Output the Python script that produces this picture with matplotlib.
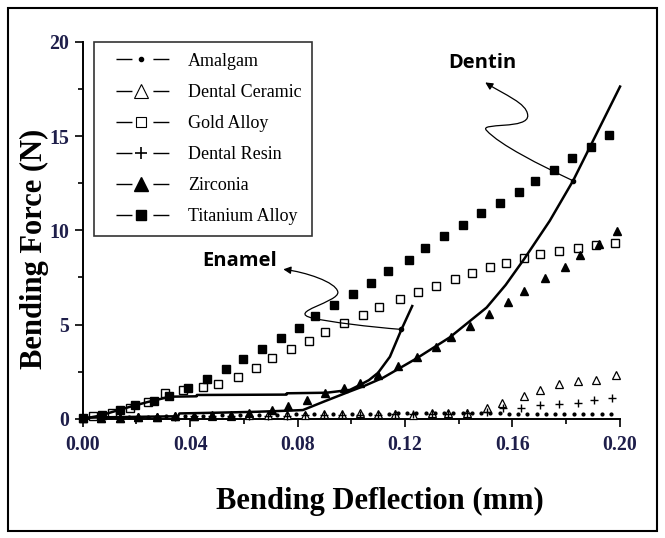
import numpy as np
import matplotlib.pyplot as plt
from matplotlib.lines import Line2D
from matplotlib.path import Path
from matplotlib.patches import FancyArrowPatch, Rectangle
from matplotlib.ticker import MultipleLocator, FormatStrFormatter

plt.rcParams['font.family'] = ['Liberation Serif', 'DejaVu Serif']

# --- data (deflection in mm, force in N) ---
amalgam_x = [0.000, 0.0035, 0.0069, 0.0104, 0.0138, 0.0173, 0.0207, 0.0242, 0.0276, 0.0311,
             0.0345, 0.0380, 0.0414, 0.0449, 0.0483, 0.0518, 0.0552, 0.0587, 0.0621, 0.0656,
             0.0690, 0.0725, 0.0759, 0.0794, 0.0828, 0.0863, 0.0897, 0.0932, 0.0966, 0.1001,
             0.1035, 0.1070, 0.1104, 0.1139, 0.1173, 0.1208, 0.1242, 0.1277, 0.1311, 0.1346,
             0.1380, 0.1415, 0.1449, 0.1484, 0.1518, 0.1553, 0.1587, 0.1622, 0.1656, 0.1691,
             0.1725, 0.1760, 0.1794, 0.1829, 0.1863, 0.1898, 0.1932, 0.1967]
amalgam_y = [0.04, 0.05, 0.06, 0.07, 0.08, 0.09, 0.10, 0.11, 0.12, 0.13,
             0.14, 0.15, 0.16, 0.17, 0.18, 0.18, 0.19, 0.20, 0.20, 0.21,
             0.22, 0.22, 0.23, 0.23, 0.24, 0.24, 0.25, 0.25, 0.26, 0.26,
             0.26, 0.27, 0.27, 0.27, 0.28, 0.28, 0.28, 0.28, 0.29, 0.29,
             0.29, 0.29, 0.29, 0.30, 0.30, 0.28, 0.27, 0.27, 0.27, 0.27,
             0.27, 0.27, 0.27, 0.27, 0.27, 0.27, 0.27, 0.27]

ceramic_x = [0.0, 0.0069, 0.0138, 0.0207, 0.0276, 0.0345, 0.0414, 0.0483, 0.0552, 0.0621,
             0.0690, 0.0759, 0.0828, 0.0897, 0.0966, 0.1032, 0.1100, 0.1162, 0.1230, 0.1299,
             0.1361, 0.1431, 0.1504, 0.1563, 0.1643, 0.1702, 0.1774, 0.1844, 0.1913, 0.1985]
ceramic_y = [0.02, 0.04, 0.06, 0.08, 0.10, 0.12, 0.14, 0.15, 0.17, 0.18,
             0.19, 0.20, 0.22, 0.24, 0.26, 0.29, 0.23, 0.23, 0.20, 0.29,
             0.29, 0.32, 0.56, 0.86, 1.19, 1.51, 1.83, 2.00, 2.07, 2.31]

gold_x = [0.0039, 0.0108, 0.0176, 0.0244, 0.0306, 0.0374, 0.0447, 0.0505, 0.0579, 0.0647,
          0.0706, 0.0774, 0.0843, 0.0904, 0.0974, 0.1043, 0.1104, 0.1183, 0.1247, 0.1317,
          0.1387, 0.1448, 0.1516, 0.1575, 0.1645, 0.1704, 0.1774, 0.1844, 0.1913, 0.1984]
gold_y = [0.16, 0.29, 0.55, 0.90, 1.38, 1.52, 1.70, 1.84, 2.23, 2.71,
          3.24, 3.70, 4.14, 4.62, 5.06, 5.50, 5.91, 6.35, 6.74, 7.06,
          7.41, 7.75, 8.07, 8.28, 8.51, 8.74, 8.90, 9.04, 9.22, 9.34]

resin_x = [0.0, 0.0069, 0.0138, 0.0207, 0.0276, 0.0345, 0.0414, 0.0483, 0.0552, 0.0621,
           0.0690, 0.0759, 0.0828, 0.0897, 0.0966, 0.1032, 0.1100, 0.1162, 0.1230, 0.1299,
           0.1361, 0.1431, 0.1504, 0.1565, 0.1634, 0.1703, 0.1775, 0.1843, 0.1905, 0.1972]
resin_y = [0.02, 0.03, 0.05, 0.07, 0.09, 0.10, 0.12, 0.13, 0.14, 0.15,
           0.16, 0.17, 0.18, 0.19, 0.20, 0.21, 0.22, 0.23, 0.24, 0.25,
           0.26, 0.28, 0.36, 0.55, 0.59, 0.71, 0.77, 0.86, 0.99, 1.10]

zirconia_x = [0.0, 0.0069, 0.0138, 0.0207, 0.0276, 0.0345, 0.0414, 0.0483, 0.0552, 0.0621,
              0.0703, 0.0765, 0.0835, 0.0903, 0.0974, 0.1032, 0.1100, 0.1175, 0.1243, 0.1314,
              0.1370, 0.1444, 0.1512, 0.1584, 0.1642, 0.1723, 0.1795, 0.1853, 0.1923, 0.1991]
zirconia_y = [0.02, 0.04, 0.06, 0.08, 0.10, 0.12, 0.15, 0.18, 0.22, 0.30,
              0.47, 0.70, 1.02, 1.36, 1.62, 1.91, 2.32, 2.80, 3.26, 3.82,
              4.32, 4.94, 5.54, 6.18, 6.78, 7.45, 8.07, 8.69, 9.27, 9.98]

titanium_x = [0.000, 0.0070, 0.0140, 0.0195, 0.0265, 0.0322, 0.0393, 0.0461, 0.0532, 0.0598,
              0.0666, 0.0737, 0.0806, 0.0866, 0.0936, 0.1007, 0.1075, 0.1135, 0.1216, 0.1275,
              0.1345, 0.1415, 0.1485, 0.1554, 0.1625, 0.1683, 0.1754, 0.1822, 0.1892, 0.1958]
titanium_y = [0.05, 0.20, 0.46, 0.73, 0.94, 1.22, 1.61, 2.09, 2.62, 3.17,
              3.70, 4.30, 4.83, 5.45, 6.05, 6.60, 7.22, 7.84, 8.42, 9.06,
              9.68, 10.28, 10.90, 11.43, 12.05, 12.63, 13.20, 13.82, 14.44, 15.06]

enamel_x = [0.0, 0.006, 0.012, 0.018, 0.024, 0.0325, 0.0424, 0.0425, 0.0759, 0.0760,
            0.0908, 0.0995, 0.1032, 0.1066, 0.1100, 0.1144, 0.1187, 0.1227]
enamel_y = [0.0, 0.15, 0.40, 0.65, 0.88, 1.17, 1.19, 1.26, 1.28, 1.35,
            1.38, 1.53, 1.79, 2.05, 2.44, 3.29, 4.74, 5.98]

dentin_x = [0.0, 0.010, 0.020, 0.030, 0.0355, 0.0360, 0.050, 0.065, 0.075, 0.082,
            0.090, 0.0995, 0.105, 0.1119, 0.1243, 0.1367, 0.1504, 0.1575, 0.1645, 0.1739,
            0.1826, 0.1888, 0.1937, 0.2001]
dentin_y = [0.05, 0.08, 0.10, 0.12, 0.13, 0.28, 0.32, 0.37, 0.42, 0.46,
            0.92, 1.45, 1.75, 2.18, 3.20, 4.32, 5.90, 7.10, 8.50, 10.50,
            12.63, 14.40, 15.80, 17.63]

labels = ['Amalgam', 'Dental Ceramic', 'Gold Alloy', 'Dental Resin', 'Zirconia', 'Titanium Alloy']

fig = plt.figure(figsize=(6.65, 5.38), dpi=100)
ax = fig.add_axes([0.1244, 0.2217, 0.8076, 0.7004])

k = dict(ls='none', color='black', clip_on=False, zorder=3)
ax.plot(amalgam_x, amalgam_y, marker='o', ms=2.0, **k)
ax.plot(ceramic_x, ceramic_y, marker='^', ms=6, mfc='white', mew=0.9, **k)
ax.plot(gold_x, gold_y, marker='s', ms=5.7, mfc='white', mew=1.0, **k)
ax.plot(resin_x, resin_y, marker='+', ms=5.5, mew=1.0, **k)
ax.plot(zirconia_x, zirconia_y, marker='^', ms=6.3, **k)
ax.plot(titanium_x, titanium_y, marker='s', ms=5.7, **k)

ax.plot(enamel_x, enamel_y, color='black', lw=1.8, clip_on=False, zorder=4)
ax.plot(dentin_x, dentin_y, color='black', lw=1.8, clip_on=False, zorder=4)

# wavy callout arrows
C4 = Path.CURVE4
enamel_path = Path([(0.1187, 4.74), (0.1069, 4.87), (0.0920, 5.13), (0.0857, 5.34),
                    (0.0753, 5.66), (0.0958, 6.19), (0.0950, 6.73),
                    (0.0943, 7.26), (0.0828, 7.79), (0.0747, 7.93)],
                   [Path.MOVETO, C4, C4, C4, C4, C4, C4, C4, C4, C4])
dentin_path = Path([(0.1826, 12.63), (0.1702, 13.47), (0.1553, 14.53), (0.1504, 15.30),
                    (0.1471, 15.75), (0.1665, 15.32), (0.1657, 16.12),
                    (0.1653, 16.76), (0.1572, 17.18), (0.1499, 17.85)],
                   [Path.MOVETO, C4, C4, C4, C4, C4, C4, C4, C4, C4])
for p in (enamel_path, dentin_path):
    ax.add_patch(FancyArrowPatch(path=p, arrowstyle='-|>', mutation_scale=11,
                                 lw=0.9, color='black', clip_on=False, zorder=5))
    ax.plot(*p.vertices[0], marker='o', ms=3, color='black', zorder=5)

ax.text(0.149, 18.88, 'Dentin', fontsize=14.5, fontweight='bold', family='Open Sans',
        ha='center', va='center')
ax.text(0.0584, 8.37, 'Enamel', fontsize=14.5, fontweight='bold', family='Open Sans',
        ha='center', va='center')

ax.set_xlim(0, 0.2)
ax.set_ylim(0, 20)
ax.xaxis.set_major_locator(MultipleLocator(0.04))
ax.xaxis.set_minor_locator(MultipleLocator(0.02))
ax.xaxis.set_major_formatter(FormatStrFormatter('%.2f'))
ax.yaxis.set_major_locator(MultipleLocator(5))
ax.yaxis.set_minor_locator(MultipleLocator(2.5))
ax.tick_params(which='both', direction='out', width=1.2, colors='black')
ax.tick_params(which='major', length=6)
ax.tick_params(which='minor', length=3.5)
ax.tick_params(axis='x', pad=6)
ax.tick_params(axis='y', pad=4)
for t in ax.get_xticklabels() + ax.get_yticklabels():
    t.set_fontsize(14.3)
    t.set_fontweight('bold')
    t.set_color('#1e1e4a')
for s in ['top', 'right']:
    ax.spines[s].set_visible(False)
for s in ['left', 'bottom']:
    ax.spines[s].set_linewidth(1.4)

ax.set_xlabel('Bending Deflection (mm)', fontsize=22, fontweight='bold', va='top')
ax.xaxis.set_label_coords(0.554, -0.18)
ax.set_ylabel('Bending Force (N)', fontsize=22, fontweight='bold')
ax.yaxis.set_label_coords(-0.062, 0.45)

# short dash - marker - short dash, as in the original key
dash = (0, (0, 7.9, 11.5, 15.1, 11.5, 30))
handles = [
    Line2D([], [], color='black', lw=1, ls=dash, marker='o', ms=3),
    Line2D([], [], color='black', lw=1, ls=dash, marker='^', ms=10, mfc='white', mew=0.8),
    Line2D([], [], color='black', lw=1, ls=dash, marker='s', ms=7.5, mfc='white', mew=0.8),
    Line2D([], [], color='black', lw=1, ls=dash, marker='+', ms=9, mew=1.2),
    Line2D([], [], color='black', lw=1, ls=dash, marker='^', ms=10),
    Line2D([], [], color='black', lw=1, ls=dash, marker='s', ms=7.5),
]
leg = ax.legend(handles, labels, loc='upper left', bbox_to_anchor=(0.021, 1.0),
                borderaxespad=0, fontsize=13, handlelength=4.0, handletextpad=0.6,
                labelspacing=0.78, borderpad=0.6, fancybox=False, frameon=True)
leg.get_frame().set_edgecolor('black')
leg.get_frame().set_linewidth(1.2)

fig.patches.append(Rectangle((0.0115, 0.013), 0.9765, 0.973, transform=fig.transFigure,
                             fill=False, lw=1.5, ec='black'))

fig.savefig('out.png', dpi=100)
